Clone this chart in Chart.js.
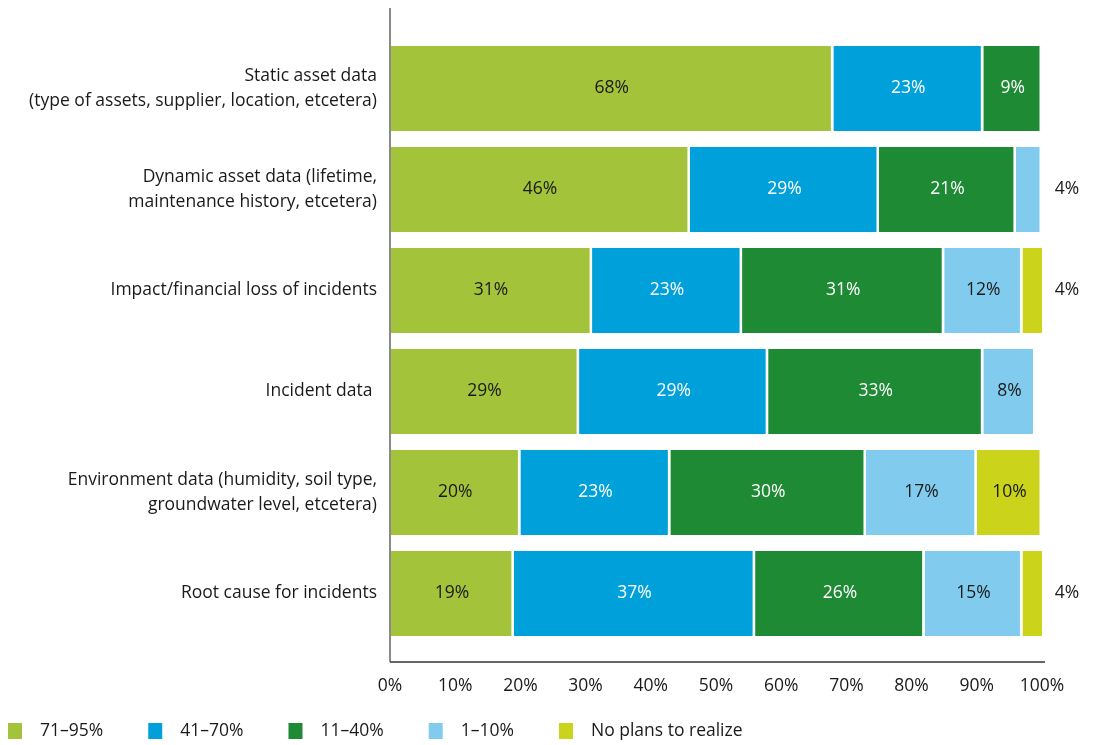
<!DOCTYPE html>
<html>
<head>
<meta charset="utf-8">
<script src="https://cdn.jsdelivr.net/npm/chart.js@4/dist/chart.umd.min.js"></script>
<style>
  html, body { margin: 0; padding: 0; background: #fff; }
  #wrap { width: 1098px; height: 745px; position: relative; }
</style>
</head>
<body>
<div id="wrap"><canvas id="chart"></canvas></div>
<script>
// categories (multi-line labels as arrays)
const categories = [
    ['Static asset data', '(type of assets, supplier, location, etcetera)'],
    ['Dynamic asset data (lifetime,', 'maintenance history, etcetera)'],
    'Impact/financial loss of incidents',
    'Incident data ',
    ['Environment data (humidity, soil type,', 'groundwater level, etcetera)'],
    'Root cause for incidents'
];

const seriesNames = ['71\u201395%', '41\u201370%', '11\u201340%', '1\u201310%', 'No plans to realize'];

// share of respondents per series (%)
const share7195 = [68, 46, 31, 29, 20, 19];
const share4170 = [23, 29, 23, 29, 23, 37];
const share1140 = [9, 21, 31, 33, 30, 26];
const share0110 = [0, 4, 12, 8, 17, 15];
const shareNone = [0, 0, 4, 0, 10, 4];

const xTicks = [0, 10, 20, 30, 40, 50, 60, 70, 80, 90, 100];

const colors = ['#a3c43a', '#00a1db', '#1e8a34', '#81ccee', '#cbd31a'];
const labelColors = ['#1a1a1a', '#fff', '#fff', '#1a1a1a', '#1a1a1a'];
const FONT = '"Open Sans", "Noto Sans", sans-serif';
const FSIZE = 17.5;

const allSeries = [share7195, share4170, share1140, share0110, shareNone];

// Zeichnet Werte in die Balken, kleine Werte rechts daneben
const valueLabels = {
    id: 'valueLabels',
    afterDatasetsDraw(chart) {
        const ctx = chart.ctx;
        const area = chart.chartArea;
        ctx.save();
        ctx.font = FSIZE + 'px ' + FONT;
        ctx.textBaseline = 'middle';
        ctx.textAlign = 'center';
        chart.data.datasets.forEach((ds, i) => {
            chart.getDatasetMeta(i).data.forEach((bar, j) => {
                const v = ds.data[j];
                if (!v) return;
                if (v < 5) {
                    ctx.fillStyle = '#1a1a1a';
                    ctx.fillText(v + '%', area.right + 25, bar.y);
                } else {
                    ctx.fillStyle = labelColors[i];
                    ctx.fillText(v + '%', (bar.x + bar.base) / 2, bar.y);
                }
            });
        });
        ctx.restore();
    }
};

// Achsenlinien und Legende von Hand
const frame = {
    id: 'frame',
    afterDraw(chart) {
        const ctx = chart.ctx;
        const area = chart.chartArea;
        ctx.save();
        ctx.strokeStyle = '#8a8a8a';
        ctx.lineWidth = 2;
        ctx.beginPath();
        ctx.moveTo(area.left, 8);
        ctx.lineTo(area.left, 662);
        ctx.stroke();
        ctx.strokeStyle = '#333';
        ctx.lineWidth = 1.5;
        ctx.beginPath();
        ctx.moveTo(area.left, 662);
        ctx.lineTo(area.right + 3, 662);
        ctx.stroke();

        ctx.font = FSIZE + 'px ' + FONT;
        ctx.textBaseline = 'middle';
        ctx.textAlign = 'left';
        let x = 8;
        const y = 731;
        seriesNames.forEach((name, i) => {
            ctx.fillStyle = colors[i];
            ctx.fillRect(x, y - 8, 14, 16);
            ctx.fillStyle = '#1a1a1a';
            ctx.fillText(name, x + 32, y);
            x += 32 + ctx.measureText(name).width + 45;
        });
        ctx.restore();
    }
};

new Chart(document.getElementById('chart'), {
    type: 'bar',
    data: {
        labels: categories,
        datasets: allSeries.map((d, i) => ({
            label: seriesNames[i],
            data: d,
            backgroundColor: colors[i],
            borderColor: '#fff',
            borderWidth: { right: 2.5, left: 0, top: 0, bottom: 0 },
            borderSkipped: false,
            barPercentage: 0.84,
            categoryPercentage: 1
        }))
    },
    options: {
        indexAxis: 'y',
        responsive: true,
        maintainAspectRatio: false,
        animation: false,
        layout: { padding: { top: 38, right: 56, bottom: 0, left: 0 } },
        plugins: {
            legend: { display: false },
            tooltip: { enabled: false }
        },
        scales: {
            x: {
                stacked: true,
                min: 0,
                max: 100,
                afterBuildTicks: (axis) => { axis.ticks = xTicks.map(v => ({ value: v })); },
                afterFit: (s) => { s.height = 101; },
                grid: { display: false },
                border: { display: false },
                ticks: {
                    padding: 24,
                    color: '#1a1a1a',
                    font: { family: FONT, size: FSIZE },
                    callback: (v) => v + '%'
                }
            },
            y: {
                stacked: true,
                afterFit: (s) => { s.width = 390; },
                grid: { display: false },
                border: { display: false },
                ticks: {
                    padding: 5,
                    color: '#1a1a1a',
                    font: { family: FONT, size: FSIZE, lineHeight: 1.4 }
                }
            }
        }
    },
    plugins: [valueLabels, frame]
});
</script>
</body>
</html>
